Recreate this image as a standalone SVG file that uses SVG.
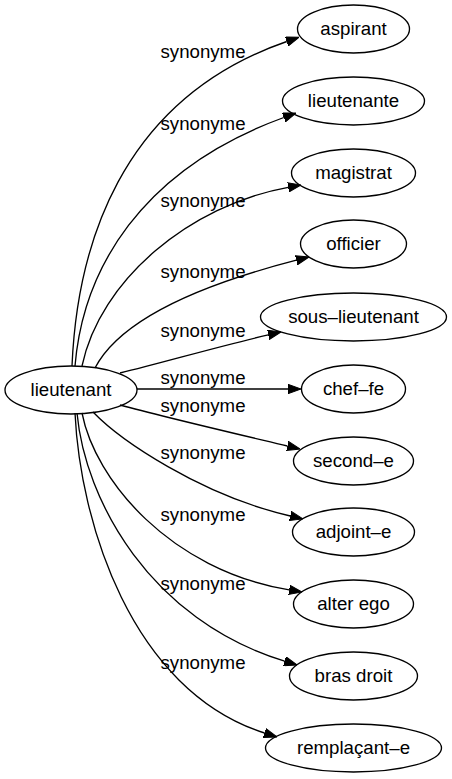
<svg xmlns="http://www.w3.org/2000/svg" width="452" height="779" viewBox="0 0 452 779">
<style>
text{font-family:"Liberation Sans",Arial,sans-serif;font-size:18.67px;fill:#000;text-anchor:middle}
ellipse{fill:none;stroke:#000;stroke-width:1.33}
.e path{fill:none;stroke:#000;stroke-width:1.33;marker-end:url(#ah)}
</style>
<defs>
<marker id="ah" viewBox="0 0 13 10" refX="0" refY="5" markerWidth="13" markerHeight="10" markerUnits="userSpaceOnUse" orient="auto">
<path d="M0,0.3 L13,5 L0,9.7 z" fill="#000" stroke="#000" stroke-width="1"/>
</marker>
</defs>
<rect width="452" height="779" fill="#fff"/>
<g class="e" id="edges">
<path d="M72,366 C77,250 118,100 286.8,41.5"/>
<path d="M75,366 C83,270 140,170 283.8,117.5"/>
<path d="M82,366 C100,280 190,205 288.2,187.3"/>
<path d="M95,368 C120,320 200,285 296.4,260.2"/>
<path d="M120,373 C165,362 220,346 268.3,334.9"/>
<path d="M137,389 L288,389"/>
<path d="M120,405 C160,416 220,430 287.4,446"/>
<path d="M93,412 C120,440 200,495 290.3,516"/>
<path d="M82,413 C95,480 170,570 289.2,589.9"/>
<path d="M77,413 C85,500 150,620 284.6,661.2"/>
<path d="M75,413 C80,520 130,690 264.6,733"/>
<text x="203" y="58">synonyme</text>
<text x="203" y="130">synonyme</text>
<text x="203" y="207">synonyme</text>
<text x="203" y="278">synonyme</text>
<text x="203" y="337">synonyme</text>
<text x="203" y="384">synonyme</text>
<text x="203" y="412">synonyme</text>
<text x="203" y="459">synonyme</text>
<text x="203" y="521">synonyme</text>
<text x="203" y="590">synonyme</text>
<text x="203" y="669">synonyme</text>
</g>
<g id="n_lieutenant"><ellipse cx="71" cy="390" rx="66" ry="24"/><text x="71" y="396">lieutenant</text></g>
<g id="n_aspirant"><ellipse cx="353.5" cy="29" rx="56" ry="24"/><text x="353.5" y="35">aspirant</text></g>
<g id="n_lieutenante"><ellipse cx="353.5" cy="101" rx="71" ry="24"/><text x="353.5" y="107">lieutenante</text></g>
<g id="n_magistrat"><ellipse cx="353.5" cy="173" rx="62" ry="24"/><text x="353.5" y="179">magistrat</text></g>
<g id="n_officier"><ellipse cx="353.5" cy="244" rx="53" ry="24"/><text x="353.5" y="250">officier</text></g>
<g id="n_sous-lieutenant"><ellipse cx="353.5" cy="317" rx="93" ry="24"/><text x="353.5" y="323">sous–lieutenant</text></g>
<g id="n_chef-fe"><ellipse cx="353.5" cy="389" rx="52" ry="24"/><text x="353.5" y="395">chef–fe</text></g>
<g id="n_second-e"><ellipse cx="353.5" cy="461" rx="60" ry="24"/><text x="353.5" y="467">second–e</text></g>
<g id="n_adjoint-e"><ellipse cx="353.5" cy="532" rx="61" ry="24"/><text x="353.5" y="538">adjoint–e</text></g>
<g id="n_alter_ego"><ellipse cx="353.5" cy="604" rx="60" ry="24"/><text x="353.5" y="610">alter ego</text></g>
<g id="n_bras_droit"><ellipse cx="353.5" cy="676" rx="64" ry="24"/><text x="353.5" y="682">bras droit</text></g>
<g id="n_remplacant-e"><ellipse cx="353.5" cy="748" rx="88" ry="24"/><text x="353.5" y="754">remplaçant–e</text></g>
</svg>
